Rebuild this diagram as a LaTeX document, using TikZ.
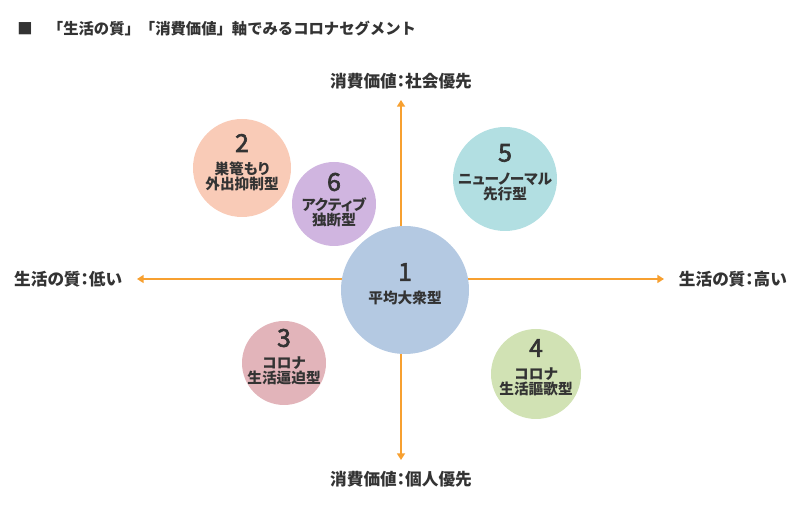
\documentclass[tikz,border=0pt]{standalone}
\usepackage{fontspec}
\setmainfont{Noto Sans CJK JP}[RawFeature=+palt]
\newfontfamily\headfont{Noto Sans CJK JP}
\newfontfamily\digitfont{Noto Sans CJK JP}[FakeBold=2.5]
\usepackage{tikz}
\usetikzlibrary{arrows.meta,positioning,calc}
\definecolor{axisorange}{HTML}{F7A030}
\definecolor{inkgray}{HTML}{333333}
\definecolor{segone}{HTML}{B4C9E2}
\definecolor{segtwo}{HTML}{F9CBB7}
\definecolor{segthree}{HTML}{E2B4BA}
\definecolor{segfour}{HTML}{D1E2B4}
\definecolor{segfive}{HTML}{B2DFE2}
\definecolor{segsix}{HTML}{D0B5E0}
\newcommand{\lgap}{8pt}

\begin{document}
\begin{tikzpicture}[x=0.75pt,y=-0.75pt,
                    axis/.style={draw=axisorange,line width=1.4pt,{Triangle[width=6pt,length=5pt]}-{Triangle[width=6pt,length=5pt]}},
                    axlabel/.style={text=inkgray,font=\bfseries\fontsize{12.5}{14}\selectfont,inner sep=0pt},
                    headline/.style={text=inkgray,font=\headfont\bfseries\fontsize{11.5}{14}\selectfont,inner sep=0pt},
                    seg/.style={circle,draw=none,inner sep=0pt},
                    segnum/.style={text=inkgray,font=\digitfont\fontsize{18.5}{18.5}\selectfont,inner sep=0pt},
                    segtext/.style={text=inkgray,font=\bfseries\fontsize{11}{11.25}\selectfont,align=center,inner sep=0pt}]
                    \useasboundingbox (0,0) rectangle (800,505);
                    \node[headline,anchor=west] (title) at (17,29) {■　「生活の質」「消費価値」軸でみるコロナセグメント};
                    \coordinate (xl) at (137,279);
                    \coordinate (xr) at (664,279);
                    \coordinate (yt) at (401,100);
                    \coordinate (yb) at (401,460);
                    \draw[axis] (xl) -- (xr);
                    \draw[axis] (yb) -- (yt);
                    \node[axlabel,left=11pt of xl] (low) {生活の質：低い};
                    \node[axlabel,right=11pt of xr] (high) {生活の質：高い};
                    \node[axlabel,above=\lgap of yt] (social) {消費価値：社会優先};
                    \node[axlabel,below=\lgap of yb] (personal) {消費価値：個人優先};
                    \foreach \n/\cx/\cy/\d/\col/\dy/\txt in {
                      1/405/290/128/segone/18/{平均大衆型},
                      2/242/168/98/segtwo/25/{巣篭もり\\外出抑制型},
                      3/284/363/84/segthree/25/{コロナ\\生活逼迫型},
                      4/536/374/90/segfour/26/{コロナ\\生活謳歌型},
                      5/505/179/104/segfive/26/{ニューノーマル\\先行型},
                      6/334/204/84/segsix/22/{アクティブ\\独断型}}{
                    \node[seg,fill=\col,minimum size=\d*0.75pt] (c\n) at (\cx,\cy) {};
                    \node[segnum] (n\n) at ($(c\n.center)+(0,-\dy)$) {\n};
                    \node[segtext] (t\n) at ($(c\n.center)+(0,8)$) {\txt};
                    }
                    \end{tikzpicture}
\end{document}
